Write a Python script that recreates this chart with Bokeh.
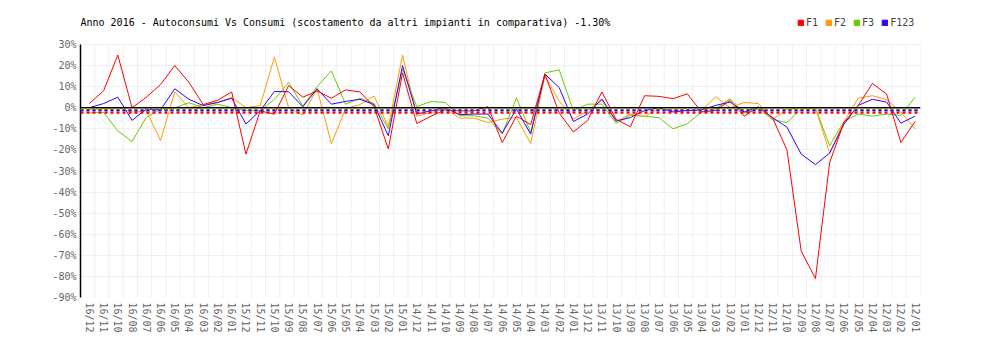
from bokeh.plotting import figure
from bokeh.models import Range1d, FixedTicker, PrintfTickFormatter, Span, Legend, LegendItem, Label
from bokeh.embed import file_html
from bokeh.resources import INLINE

title_text = "Anno 2016 - Autoconsumi Vs Consumi (scostamento da altri impianti in comparativa) -1.30%"

labels = ["16/12", "16/11", "16/10", "16/08", "16/07", "16/06", "16/05", "16/04", "16/03", "16/02", "16/01",
          "15/12", "15/11", "15/10", "15/09", "15/08", "15/07", "15/06", "15/05", "15/04", "15/03", "15/02", "15/01",
          "14/12", "14/11", "14/10", "14/09", "14/08", "14/07", "14/06", "14/05", "14/04", "14/03", "14/02", "14/01",
          "13/12", "13/11", "13/10", "13/09", "13/08", "13/07", "13/06", "13/05", "13/04", "13/03", "13/02", "13/01",
          "12/12", "12/11", "12/10", "12/09", "12/08", "12/07", "12/06", "12/05", "12/04", "12/03", "12/02", "12/01"]

f1 = [2, 8, 25, 0, 5, 11, 20, 12, 1.5, 3.5, 7.5, -22, -1.5, -3, 10.5, 5, 8, 4.5, 8.5, 7.5, 0.5, -19.5, 16.5,
      -7.5, -4, -1, -1.5, -1.5, 0.5, -16.5, -4, -8, 16, -2.5, -11.5, -6, 7.5, -5.5, -9, 5.7, 5.4, 4.3, 6.6,
      -2, -1.3, 3.5, -4, 0.5, -5, -20, -68, -81, -26, -7, 1, 11.5, 6.5, -16.5, -6.5]
f2 = [-1, -0.5, 0, -2, -1.5, -15.5, 7.5, 0, 1.5, 2.5, 5, 0, 1, 24, 0, -3.5, 9, -17, -0.5, 1.5, 5.5, -9, 25,
      -4, -2.2, -0.6, -4.9, -4.9, -7, -5.4, -4.6, -17, 15, 3.3, -5.4, -1.4, 3.5, -6.5, -3, -4.2, -0.5, -1.2, -1.3,
      -1.3, 5.2, 0, 2.5, 2, -5.5, -0.8, 0, 0, -21.5, -6.6, 4.5, 5.7, 3.8, -2, -10]
f3 = [-2.4, -2.2, -11, -16, -4.6, -0.6, 0, 2.4, 0, 1.7, 0, -1.4, -1.4, 4, 12, 0.8, 10, 17.5, 1.7, 4.5, 2, -10, 18.3,
      0.5, 3, 2.5, -3.8, -3.8, -4.9, -12.5, 4.7, -11.7, 16.5, 18, -1.4, 1.7, 1.7, -7.4, -3.6, -4, -4.7, -10, -7.6,
      -2, -0.5, 4.3, -2.5, -0.5, -5.7, -7, -0.5, 0, -18, -6.5, -3, -4, -3, -3.7, 5]
f123 = [0, 2, 5, -6, -0.6, -1, 9, 4, 1, 2.5, 4.5, -7.7, -1.4, 7.7, 7.6, 0.5, 9, 1.7, 3, 4, 1.5, -13.3, 20,
        -3, -1.4, 0, -3.3, -3, -3, -12, -0.6, -12.5, 16, 9.6, -6.5, -3, 4.2, -6.3, -4.7, -1.3, 0, -2, -1.3,
        -1, 1.1, 2.7, -2, 0.3, -4.7, -9.2, -22, -27, -21.5, -7.9, 1.1, 4, 2.7, -7.3, -4]

series_names = ["F1", "F2", "F3", "F123"]
averages = [-2.4, -1.0, -1.0, -1.3]
colors = ["#ff0000", "#ff9900", "#66cc00", "#3300ff"]
y_ticks = [-90, -80, -70, -60, -50, -40, -30, -20, -10, 0, 10, 20, 30]
y_min, y_max = -90, 30

n = len(labels)
xs = list(range(n))
shift = 0.62

# layout: frame from page y=4 to 297, value 30 at y=44
W, H = 1000, 340
top_b, bot_b = 4, 43
frame_h = H - top_b - bot_b
extra_px = 44 - top_b
y_end = (frame_h * y_max - extra_px * y_min) / (frame_h - extra_px)

p = figure(width=W, height=H, output_backend="svg", toolbar_location=None, title_location=None,
           x_range=Range1d(-shift, n - shift), y_range=Range1d(y_min, y_end),
           min_border_left=80, min_border_right=80, min_border_top=top_b, min_border_bottom=bot_b)
p.outline_line_color = None
p.background_fill_color = "white"
p.border_fill_color = "white"

p.xgrid.visible = False
p.ygrid.ticker = FixedTicker(ticks=y_ticks)
p.ygrid.grid_line_color = "#efefef"
p.ygrid.grid_line_width = 1
bx = [k - shift for k in range(n + 1)]
p.segment(x0=bx, y0=[y_min] * len(bx), x1=bx, y1=[y_max] * len(bx),
          line_color="#efefef", line_width=1, level="underlay")

p.xaxis.ticker = FixedTicker(ticks=xs)
p.xaxis.major_label_overrides = {i: lab for i, lab in enumerate(labels)}
p.xaxis.major_label_orientation = "vertical"
p.xaxis.axis_line_color = None
p.xaxis.major_tick_line_color = None
p.xaxis.minor_tick_line_color = None
p.xaxis.major_tick_out = 0
p.xaxis.major_tick_in = 0
p.xaxis.major_label_standoff = 5
p.xaxis.major_label_text_font = "DejaVu Sans Mono"
p.xaxis.major_label_text_font_size = "10px"
p.xaxis.major_label_text_color = "#666666"

p.yaxis.ticker = FixedTicker(ticks=y_ticks)
p.yaxis.bounds = (y_min, y_max)
p.yaxis.formatter = PrintfTickFormatter(format="%d%%")
p.yaxis.axis_line_color = "black"
p.yaxis.axis_line_width = 1.5
p.yaxis.major_tick_line_color = None
p.yaxis.minor_tick_line_color = None
p.yaxis.major_tick_out = 0
p.yaxis.major_tick_in = 0
p.yaxis.major_label_standoff = 4
p.yaxis.major_label_text_font = "DejaVu Sans Mono"
p.yaxis.major_label_text_font_size = "10px"
p.yaxis.major_label_text_color = "#666666"

data = {"F1": f1, "F2": f2, "F3": f3, "F123": f123}
col = dict(zip(series_names, colors))
for name in ["F3", "F2", "F123", "F1"]:
    p.line(xs, data[name], line_color=col[name], line_width=1)

p.add_layout(Span(location=0, dimension="width", line_color="black", line_width=1.5))
for name, avg in zip(["F2", "F3", "F123", "F1"], [averages[1], averages[2], averages[3], averages[0]]):
    p.add_layout(Span(location=avg, dimension="width", line_color=col[name], line_width=2, line_dash="3 3"))

p.add_layout(Label(x=0, y=frame_h - 18, x_units="screen", y_units="screen", text=title_text,
                   text_align="left", text_baseline="middle", text_font="DejaVu Sans Mono",
                   text_font_size="10px", text_color="#000000"))

nan = float("nan")
items = []
for name in series_names:
    r = p.rect(x=[nan], y=[nan], width=1, height=1, fill_color=col[name], line_color=col[name])
    items.append(LegendItem(label=name, renderers=[r]))

legend = Legend(items=items, orientation="horizontal", location=(717, frame_h - 24),
                glyph_width=7, glyph_height=7, label_standoff=2, spacing=7, padding=0, margin=0,
                border_line_color=None, background_fill_alpha=0,
                label_text_font="DejaVu Sans Mono", label_text_font_size="10px",
                label_text_color="#444444", label_height=10, label_width=1)
p.add_layout(legend, "center")

open("out.html", "w").write(file_html(p, INLINE))
